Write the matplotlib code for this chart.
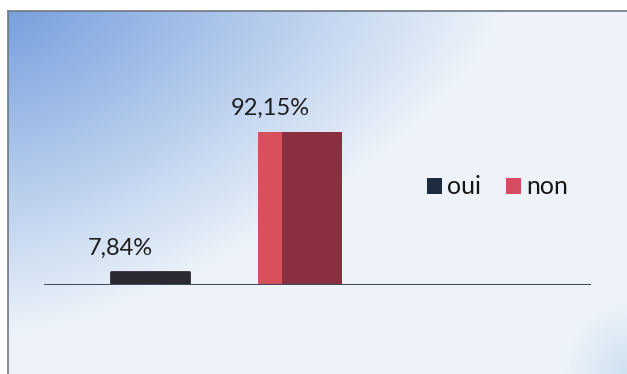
import numpy as np
import matplotlib
matplotlib.use("Agg")
import matplotlib.pyplot as plt
from matplotlib.patches import Patch

# Survey answers (share of respondents, %)
categories = ["oui", "non"]
values = [7.84, 92.15]
value_labels = ["7,84%", "92,15%"]

W, H = 627, 374
fig = plt.figure(figsize=(W / 100, H / 100), dpi=100)
fig.patch.set_facecolor("white")

# --- gradient backdrop inside the frame ---
fx0, fy_top = 8, 11
bg = fig.add_axes([fx0 / W, 0, 1 - fx0 / W, 1 - fy_top / H])
ny, nx = 200, 330
yy, xx = np.mgrid[0:1:ny * 1j, 0:1:nx * 1j]
base = np.array([0.93, 0.955, 0.98])
blue = np.array([0.47, 0.63, 0.87])
q = 1.4
t = ((xx / 0.8) ** q + (yy / 0.9) ** q) ** (1 / q)
w1 = np.clip(1 - t, 0, 1)
d2 = np.sqrt(((1 - xx) / 0.10) ** 2 + ((1 - yy) / 0.20) ** 2)
w2 = 0.3 * np.clip(1 - d2, 0, 1)
corner = np.array([0.55, 0.72, 0.86])
img = base[None, None, :] * (1 - w1 - w2)[..., None] + blue * w1[..., None] + corner * w2[..., None]
bg.imshow(np.clip(img, 0, 1), aspect="auto", extent=[0, 1, 0, 1], origin="upper",
          interpolation="bilinear")
bg.set_xlim(0, 1)
bg.set_ylim(0, 1)
bg.set_xticks([])
bg.set_yticks([])
for side in ["right", "bottom"]:
    bg.spines[side].set_visible(False)
for side in ["left", "top"]:
    bg.spines[side].set_color("#6f7780")
    bg.spines[side].set_linewidth(1.2)

# --- bar chart ---
left_px, right_px, base_px = 44, 591, 285
axh_px = 166
ax = fig.add_axes([left_px / W, (H - base_px) / H, (right_px - left_px) / W, axh_px / H])
ax.patch.set_alpha(0)
ax.set_ylim(0, 100)
x = np.arange(len(categories))
ax.set_xlim(-106 / 150, (right_px - left_px - 106) / 150)

font = ["Lato", "DejaVu Sans"]

# "oui" column
ax.bar(x[0], values[0], width=0.52, color="#2b2a33", edgecolor="#2b2a33",
       linewidth=2, joinstyle="round", zorder=3)
# "non" column: lit side face + darker front face
ax.bar(x[1], values[1], width=0.56, color="#d9505c", zorder=3)
ax.bar(x[1] + 0.08, values[1], width=0.40, color="#8a2f40", zorder=4)

for xi, v, lab in zip(x, values, value_labels):
    ax.text(xi - 0.2, v + 10.2, lab, ha="center", va="baseline", fontsize=17,
            family=font, color="#1e1e1e")

ax.axhline(0, color="#3f4d5a", lw=2.2, zorder=5)
ax.set_xticks([])
ax.set_yticks([])
for s in ax.spines.values():
    s.set_visible(False)

handles = [Patch(facecolor="#1f2b40", edgecolor="none"),
           Patch(facecolor="#d64c62", edgecolor="none")]
leg = fig.legend(handles, categories, ncol=2, loc="center left",
                 bbox_to_anchor=(427 / W, 1 - 187 / H), frameon=False,
                 borderpad=0, borderaxespad=0,
                 prop={"family": font, "size": 18}, handlelength=0.6,
                 handleheight=0.6, handletextpad=0.2, columnspacing=1.0)
for t in leg.get_texts():
    t.set_color("#161616")

fig.savefig("out.png", dpi=100)
